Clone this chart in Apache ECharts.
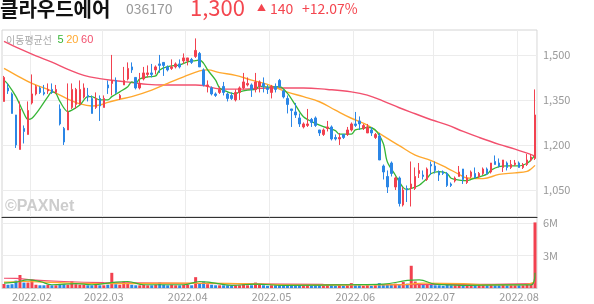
<!DOCTYPE html>
<html><head><meta charset="utf-8">
<script src="https://cdn.jsdelivr.net/npm/echarts@6/dist/echarts.min.js"></script>
<style>html,body{margin:0;padding:0;background:#fff}#c{width:594px;height:304px}</style>
</head><body><div id="c"></div>
<script>
// trading days per month
const daysJan = [20,21,24,25,26,27,28];
const daysFeb = [3,4,7,8,9,10,11,14,15,16,17,18,21,22,23,24,25,28];
const daysMar = [2,3,4,7,8,10,11,14,15,16,17,18,21,22,23,24,25,28,29,30,31];
const daysApr = [1,4,5,6,7,8,11,12,13,14,15,18,19,20,21,22,25,26,27,28,29];
const daysMay = [2,3,4,6,9,10,11,12,13,16,17,18,19,20,23,24,25,26,27,30,31];
const daysJun = [2,3,7,8,9,10,13,14,15,16,17,20,21,22,23,24,27,28,29,30];
const daysJul = [1,4,5,6,7,8,11,12,13,14,15,18,19,20,21,22,25,26,27,28,29];
const daysAug = [1,2,3,4,5];

const openP = [1345,1390,1370,1300,1185,1255,1235,1340,1370,1390,1375,1380,1385,1375,1320,1255,1250,1325,1335,1335,
 1360,1365,1355,1325,1355,1325,1400,1405,1415,1355,1400,1420,1460,1425,1390,1420,1435,1440,1450,1470,
 1475,1460,1455,1460,1470,1480,1480,1485,1495,1505,1450,1395,1390,1370,1375,1395,1370,1365,1350,1375,
 1390,1400,1400,1385,1395,1405,1390,1375,1395,1415,1380,1355,1320,1310,1290,1260,1265,1285,1290,1250,
 1235,1255,1260,1225,1220,1235,1235,1250,1270,1280,1255,1240,1250,1225,1230,1130,1095,1140,1060,1090,
 1000,1055,1055,1055,1105,1100,1085,1135,1130,1110,1110,1105,1070,1080,1095,1120,1075,1095,1105,1095,
 1105,1120,1110,1145,1140,1125,1140,1125,1135,1140,1125,1135,1150,1155];
const closeP = [1425,1380,1305,1200,1320,1245,1315,1370,1395,1375,1370,1385,1375,1385,1270,1210,1310,1385,1385,1385,
 1390,1360,1305,1355,1330,1355,1390,1415,1375,1365,1415,1455,1450,1390,1405,1440,1440,1435,1460,1465,
 1465,1450,1460,1470,1460,1490,1490,1475,1515,1460,1400,1400,1370,1365,1385,1375,1355,1355,1375,1390,
 1410,1405,1385,1410,1410,1395,1385,1395,1385,1395,1360,1335,1315,1300,1270,1270,1270,1275,1265,1240,
 1250,1260,1220,1220,1225,1225,1250,1270,1265,1270,1265,1260,1240,1235,1150,1110,1060,1105,1090,1005,
 1050,1050,1070,1095,1115,1095,1120,1130,1115,1100,1105,1065,1065,1090,1110,1085,1090,1110,1090,1105,
 1120,1105,1140,1135,1130,1150,1125,1135,1140,1125,1135,1150,1160,1300];
const lowP = [1345,1370,1305,1190,1185,1205,1235,1335,1365,1370,1365,1370,1370,1370,1265,1200,1250,1320,1320,1335,
 1355,1345,1305,1320,1280,1325,1370,1365,1370,1350,1400,1415,1440,1385,1385,1415,1425,1425,1435,1440,
 1430,1445,1450,1455,1455,1470,1465,1470,1490,1460,1395,1375,1365,1360,1370,1365,1345,1350,1345,1350,
 1385,1395,1360,1375,1375,1375,1370,1355,1375,1390,1355,1305,1260,1290,1260,1255,1260,1260,1260,1230,
 1230,1245,1215,1215,1200,1220,1230,1245,1260,1250,1250,1240,1230,1220,1150,1085,1040,1095,1050,995,
 995,1010,995,1050,1090,1085,1080,1100,1105,1080,1100,1060,1060,1075,1095,1070,1070,1090,1090,1090,
 1100,1100,1105,1135,1125,1110,1115,1120,1130,1125,1120,1130,1145,1150];
const highP = [1430,1405,1375,1300,1345,1265,1345,1435,1400,1395,1400,1405,1405,1400,1335,1260,1405,1405,1390,1415,
 1405,1390,1365,1375,1365,1365,1415,1500,1425,1370,1460,1475,1475,1425,1440,1460,1465,1470,1465,1500,
 1475,1465,1485,1475,1485,1505,1490,1490,1555,1510,1455,1415,1395,1375,1395,1410,1375,1375,1385,1395,
 1440,1425,1405,1440,1415,1425,1400,1400,1405,1420,1385,1365,1320,1340,1305,1275,1320,1290,1295,1250,
 1255,1280,1265,1235,1240,1235,1260,1275,1310,1295,1270,1270,1260,1240,1240,1135,1115,1145,1095,1095,
 1060,1065,1145,1125,1140,1115,1125,1145,1145,1115,1115,1110,1075,1095,1130,1120,1100,1115,1125,1110,
 1125,1125,1140,1165,1155,1150,1145,1150,1150,1145,1140,1170,1170,1385];
const volume = [370000,300000,350000,680000,1200000,500000,500000,750000,300000,250000,250000,300000,250000,250000,300000,350000,300000,600000,350000,300000,
 300000,250000,250000,300000,250000,250000,300000,1400000,350000,300000,600000,500000,300000,250000,250000,300000,250000,250000,300000,500000,
 300000,250000,300000,250000,250000,300000,300000,250000,1000000,450000,600000,350000,300000,250000,250000,250000,250000,200000,250000,250000,
 350000,250000,250000,500000,300000,250000,200000,250000,250000,250000,250000,250000,300000,250000,250000,200000,250000,200000,250000,250000,
 200000,250000,250000,200000,250000,200000,250000,450000,250000,250000,200000,250000,200000,250000,450000,300000,350000,300000,400000,350000,
 550000,400000,2050000,600000,350000,300000,350000,300000,250000,250000,200000,300000,250000,250000,300000,250000,250000,250000,250000,250000,
 250000,250000,300000,250000,250000,300000,250000,250000,250000,250000,250000,300000,300000,6050000];

const ma5Pts = [[0,1416],[1,1402],[3,1361],[5,1305],[6,1285],[7,1289],[9,1322],[11,1361],[12,1377],[13,1372],[14,1345],[16,1311],[17,1316],[19,1333],[21,1361],[22,1361],[24,1350],[26,1350],[27,1361],[29,1377],[31,1394],[32,1410],[33,1406],[34,1420],[36,1427],[38,1430],[39,1450],[41,1461],[44,1467],[46,1477],[48,1481],[49,1483],[50,1472],[51,1450],[53,1416],[54,1390],[56,1377],[58,1370],[59,1377],[61,1383],[63,1385],[64,1396],[66,1393],[69,1394],[71,1372],[73,1333],[75,1294],[78,1272],[80,1261],[83,1248],[84,1236],[87,1236],[88,1250],[90,1255],[91,1259],[93,1250],[95,1205],[96,1144],[98,1100],[100,1058],[101,1052],[102,1055],[104,1066],[106,1089],[107,1105],[109,1111],[111,1105],[112,1089],[114,1083],[116,1081],[117,1085],[119,1094],[121,1103],[122,1116],[124,1128],[126,1130],[129,1130],[131,1139],[132,1150],[133,1166]];
const ma20Pts = [[0,1455],[3,1433],[7,1405],[11,1385],[16,1353],[19,1337],[22,1330],[24,1333],[26,1342],[29,1352],[32,1361],[37,1383],[41,1405],[45,1427],[49,1447],[51,1450],[54,1441],[58,1432],[62,1416],[66,1402],[71,1376],[75,1361],[79,1344],[83,1316],[87,1289],[91,1266],[95,1230],[99,1198],[103,1166],[107,1148],[111,1123],[114,1102],[116,1090],[120,1088],[124,1102],[128,1107],[131,1112],[132,1120],[133,1132]];
const ma60Pts = [[0,1545],[4,1520],[8,1497],[12,1476],[16,1452],[20,1432],[24,1421],[28,1414],[32,1408],[36,1402],[40,1400],[48,1400],[50,1398],[54,1387],[60,1386],[66,1390],[75,1390],[81,1385],[87,1377],[91,1366],[95,1346],[99,1324],[103,1304],[107,1284],[111,1267],[115,1245],[119,1225],[124,1202],[128,1186],[133,1163]];
const volMa5Pts = [[0,450000],[3,550000],[6,750000],[9,600000],[12,300000],[18,400000],[22,300000],[28,550000],[31,600000],[35,300000],[45,300000],[49,600000],[52,500000],[57,250000],[63,350000],[70,250000],[87,300000],[95,350000],[101,700000],[104,750000],[108,350000],[115,250000],[125,280000],[132,280000],[133,1400000]];
const volMa20Pts = [[0,550000],[5,600000],[10,550000],[20,420000],[30,400000],[40,450000],[50,450000],[60,400000],[70,300000],[80,270000],[90,280000],[100,300000],[105,450000],[115,400000],[122,280000],[130,300000],[133,580000]];
const volMa60Pts = [[0,900000],[3,880000],[7,750000],[15,600000],[25,500000],[40,450000],[60,380000],[80,330000],[100,320000],[120,330000],[133,400000]];

const priceTicks = [1050,1200,1350,1500];
const volTicks = [3000000,6000000];

const UP = '#f2414f', DOWN = '#2b86e6';
const C5 = '#36b536', C20 = '#ffa82e', C60 = '#f2506e';

const cats = [];
[['2022.01',daysJan],['2022.02',daysFeb],['2022.03',daysMar],['2022.04',daysApr],['2022.05',daysMay],['2022.06',daysJun],['2022.07',daysJul],['2022.08',daysAug]]
  .forEach(([m, ds]) => ds.forEach(d => cats.push(m + '.' + String(d).padStart(2,'0'))));
const isMonthStart = (i) => i > 0 && cats[i].slice(0,7) !== cats[i-1].slice(0,7);

const kData = cats.map((_, i) => [openP[i], closeP[i], lowP[i], highP[i]]);
const vData = volume.map((v, i) => ({value: v, itemStyle: {color: closeP[i] >= openP[i] ? UP : DOWN}}));

const FONT = 'Noto Sans CJK KR';
const chart = echarts.init(document.getElementById('c'), null, {renderer: 'canvas'});
chart.setOption({
  animation: false,
  textStyle: {fontFamily: FONT},
  grid: [
    {left: 2, top: 30, width: 535, height: 187, show: true, borderColor: '#d4d4d4', borderWidth: 1},
    {left: 2, top: 217, width: 535, height: 71, show: true, borderColor: '#d4d4d4', borderWidth: 1}
  ],
  xAxis: [
    {type: 'category', gridIndex: 0, data: cats, boundaryGap: true,
     axisLine: {show: true, onZero: false, lineStyle: {color: '#333', width: 1}},
     axisTick: {show: false}, axisLabel: {show: false},
     splitLine: {show: true, interval: (i) => isMonthStart(i), lineStyle: {color: '#ececec'}}},
    {type: 'category', gridIndex: 1, data: cats, boundaryGap: true,
     axisLine: {show: true, onZero: false, lineStyle: {color: '#cfcfcf'}},
     axisTick: {show: false},
     axisLabel: {show: true, interval: (i) => isMonthStart(i), formatter: (v) => v.slice(0,7),
       color: '#999', fontSize: 11, margin: 3, fontFamily: FONT},
     splitLine: {show: true, interval: (i) => isMonthStart(i), lineStyle: {color: '#ececec'}}}
  ],
  yAxis: [
    {type: 'value', gridIndex: 0, position: 'right', min: 960, max: 1583, scale: true,
     axisLine: {show: false}, axisTick: {show: false, customValues: priceTicks},
     axisLabel: {customValues: priceTicks, color: '#999', fontSize: 11, margin: 6,
       formatter: (v) => v.toLocaleString('en-US'), fontFamily: FONT},
     splitLine: {show: true, lineStyle: {color: '#ececec'}}},
    {type: 'value', gridIndex: 1, position: 'right', min: 0, max: 6550000,
     axisLine: {show: false}, axisTick: {show: false, customValues: volTicks},
     axisLabel: {customValues: volTicks, color: '#999', fontSize: 11, margin: 6,
       formatter: (v) => (v / 1000000) + 'M', fontFamily: FONT},
     splitLine: {show: true, lineStyle: {color: '#ececec'}}}
  ],
  series: [
    {type: 'line', xAxisIndex: 0, yAxisIndex: 0, data: ma60Pts, smooth: 0.4, symbol: 'none',
     lineStyle: {color: C60, width: 1.4}, z: 2},
    {type: 'line', xAxisIndex: 0, yAxisIndex: 0, data: ma20Pts, smooth: 0.4, symbol: 'none',
     lineStyle: {color: C20, width: 1.4}, z: 2},
    {type: 'line', xAxisIndex: 0, yAxisIndex: 0, data: ma5Pts, smooth: 0.3, symbol: 'none',
     lineStyle: {color: C5, width: 1.3}, z: 2},
    {type: 'candlestick', xAxisIndex: 0, yAxisIndex: 0, data: kData, barWidth: 2,
     itemStyle: {color: UP, color0: DOWN, borderColor: UP, borderColor0: DOWN, borderWidth: 1}, z: 3},
    {type: 'bar', xAxisIndex: 1, yAxisIndex: 1, data: vData, barWidth: 3, z: 2},
    {type: 'line', xAxisIndex: 1, yAxisIndex: 1, data: volMa60Pts, smooth: 0.4, symbol: 'none',
     lineStyle: {color: C60, width: 1.2}, z: 3},
    {type: 'line', xAxisIndex: 1, yAxisIndex: 1, data: volMa20Pts, smooth: 0.4, symbol: 'none',
     lineStyle: {color: C20, width: 1.2}, z: 3},
    {type: 'line', xAxisIndex: 1, yAxisIndex: 1, data: volMa5Pts, smooth: 0.4, symbol: 'none',
     lineStyle: {color: C5, width: 1.2}, z: 3}
  ],
  graphic: [
    {type: 'text', left: 0, top: -1, style: {text: '클라우드에어', fontSize: 20, fontWeight: 'bold', fill: '#111', fontFamily: FONT}},
    {type: 'text', left: 126, top: 2, style: {text: '036170', fontSize: 14, fill: '#999', fontFamily: FONT}},
    {type: 'text', left: 190, top: -3, style: {text: '1,300', fontSize: 22, fill: '#f4464f', fontFamily: FONT}},
    {type: 'text', left: 257, top: 3, style: {text: '▲', fontSize: 9, fill: '#f4464f', fontFamily: FONT}},
    {type: 'text', left: 270, top: 2, style: {text: '140', fontSize: 14, fill: '#f4464f', fontFamily: FONT}},
    {type: 'text', left: 302, top: 2, style: {text: '+12.07%', fontSize: 14, fill: '#f4464f', fontFamily: FONT}},
    {type: 'text', left: 6, top: 34, z: 10, style: {
      text: '{a|이동평균선}  {g|5} {o|20} {r|60}', fontFamily: FONT,
      rich: {a: {fontSize: 10, fill: '#aaa', fontFamily: FONT}, g: {fontSize: 11, fill: C5}, o: {fontSize: 11, fill: C20}, r: {fontSize: 11, fill: C60}}}},
    {type: 'text', left: 5, top: 199, z: 10, style: {text: '©PAXNet', fontSize: 16, fontWeight: 'bold', fill: '#cdcdcd', fontFamily: 'Liberation Sans'}}
  ]
});
</script></body></html>
